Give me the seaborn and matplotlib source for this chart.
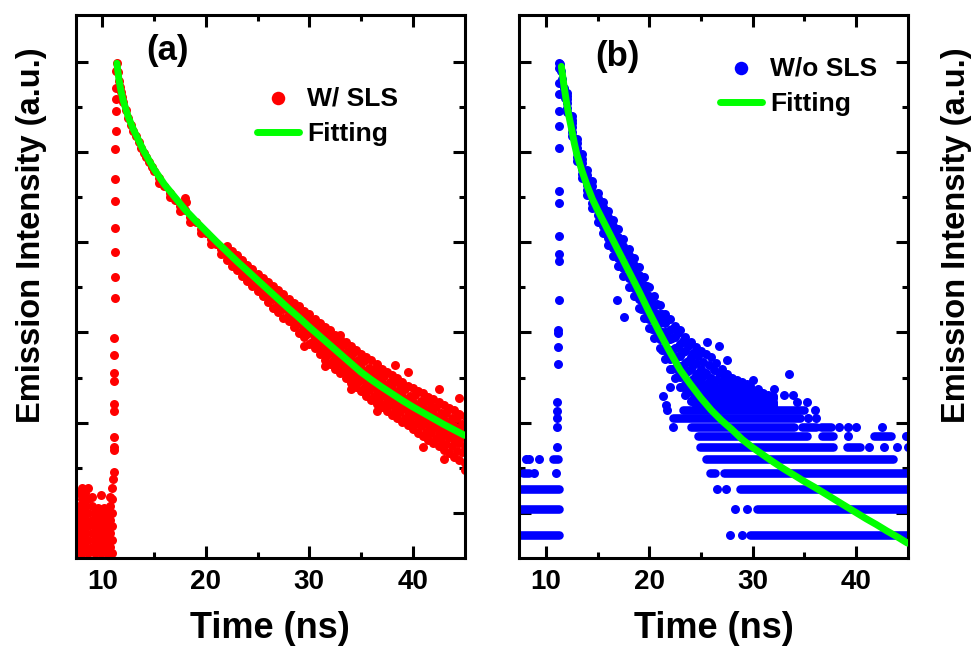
import numpy as np
import pandas as pd
import matplotlib
matplotlib.use("Agg")
import matplotlib.pyplot as plt
import seaborn as sns
from matplotlib.ticker import FixedLocator, NullFormatter

# ---------------- data (y in arbitrary log-intensity units) ----------------
# panel (a): W/ SLS, red
red_noise_x = [7.45] * 4 + [7.75] * 5 + [8.05] * 6 + [8.35] * 5 + [8.65] * 6 + [8.95] * 5 + \
    [9.25] * 4 + [9.55] * 4 + [9.85] * 5 + [10.15] * 4 + [10.45] * 4 + [10.75] * 5 + [10.95] * 6
red_noise_y = [0.1, 0.4, 0.7, 1.0,
               0.25, 0.55, 0.85, 1.15, 1.45,
               0.1, 0.4, 0.7, 1.0, 1.3, 1.55,
               0.25, 0.55, 0.85, 1.15, 1.45,
               0.1, 0.4, 0.7, 1.0, 1.3, 1.55,
               0.25, 0.55, 0.85, 1.15, 1.35,
               0.1, 0.4, 0.7, 1.0,
               0.25, 0.55, 0.85, 1.1,
               0.1, 0.4, 0.7, 1.0, 1.4,
               0.25, 0.55, 0.85, 1.1,
               0.1, 0.4, 0.7, 1.0,
               0.25, 0.55, 0.85, 1.15, 1.35,
               0.1, 0.4, 0.7, 1.0, 1.3, 1.55]

red_rise_x = [11.05, 11.1, 11.1, 11.1, 11.1, 11.15, 11.15, 11.15, 11.15, 11.15, 11.15,
              11.2, 11.2, 11.2, 11.2, 11.2, 11.25, 11.25, 11.3, 11.3, 11.3, 11.35, 11.35, 11.4]
red_rise_y = [1.75, 1.9, 2.39, 2.46, 2.68, 3.27, 3.41, 3.92, 4.11, 4.51, 4.87,
              5.77, 6.22, 6.79, 7.32, 7.92, 8.41, 9.07, 9.47, 9.91, 10.18, 10.42, 10.8, 10.98]

red_head_x = [11.5, 11.6, 11.7, 11.8, 11.9, 12.0, 12.25, 12.5, 12.75, 13.0, 13.25, 13.5, 13.75,
              14.0, 14.25, 14.5, 14.75, 15.0, 15.5, 16.0, 16.5, 17.0, 17.5, 18.0, 18.5, 19.0,
              19.5, 20.0, 20.5, 21.0, 21.5]
red_head_y = [10.78, 10.58, 10.45, 10.33, 10.22, 10.12, 9.93, 9.76, 9.6, 9.47, 9.35, 9.22, 9.1,
              8.98, 8.88, 8.78, 8.68, 8.58, 8.42, 8.24, 8.1, 7.94, 7.8, 7.72, 7.56, 7.44,
              7.3, 7.2, 7.07, 6.97, 6.86]
red_low_x = [15.5, 16.5, 17.5, 18.5, 19.5, 20.5, 21.5]
red_low_y = [8.32, 8.0, 7.7, 7.45, 7.2, 6.97, 6.74]

red_tail_x = [22, 22.5, 23, 23.5, 24, 24.5, 25, 25.5, 26, 26.5, 27, 27.5, 28, 28.5, 29, 29.5,
              30, 30.5, 31, 31.5, 32, 32.5, 33, 33.5, 34, 34.5, 35, 35.5, 36, 36.5, 37, 37.5,
              38, 38.5, 39, 39.5, 40, 40.5, 41, 41.5, 42, 42.5, 43, 43.5, 44, 44.5, 45]
red_tail_hi = [6.92, 6.8, 6.72, 6.6, 6.5, 6.4, 6.3, 6.2, 6.12, 6.03, 5.95, 5.85, 5.75, 5.65, 5.58, 5.48,
               5.42, 5.3, 5.22, 5.12, 5.05, 4.95, 4.85, 4.78, 4.7, 4.62, 4.52, 4.45, 4.38, 4.3, 4.2, 4.12,
               4.05, 3.98, 3.9, 3.82, 3.78, 3.7, 3.65, 3.58, 3.52, 3.45, 3.4, 3.32, 3.28, 3.2, 3.15]
red_tail_mhi = [6.84, 6.72, 6.62, 6.5, 6.42, 6.3, 6.2, 6.1, 6.0, 5.9, 5.8, 5.7, 5.6, 5.5, 5.4, 5.3,
                5.2, 5.1, 5.0, 4.9, 4.8, 4.72, 4.6, 4.52, 4.42, 4.32, 4.22, 4.15, 4.05, 3.98, 3.9, 3.82,
                3.75, 3.68, 3.6, 3.52, 3.45, 3.38, 3.32, 3.25, 3.2, 3.12, 3.05, 2.98, 2.92, 2.85, 2.8]
red_tail_mlo = [6.7, 6.6, 6.48, 6.38, 6.28, 6.16, 6.05, 5.95, 5.85, 5.75, 5.62, 5.52, 5.42, 5.3, 5.2, 5.1,
                5.0, 4.9, 4.78, 4.68, 4.58, 4.48, 4.38, 4.28, 4.18, 4.08, 3.98, 3.88, 3.8, 3.72, 3.62, 3.55,
                3.48, 3.4, 3.32, 3.25, 3.18, 3.1, 3.02, 2.95, 2.88, 2.82, 2.75, 2.68, 2.62, 2.55, 2.48]
red_tail_lo = [6.6, 6.48, 6.38, 6.25, 6.15, 6.02, 5.93, 5.8, 5.68, 5.55, 5.45, 5.32, 5.25, 5.12, 4.98, 4.9,
               4.75, 4.65, 4.52, 4.4, 4.3, 4.2, 4.1, 4.0, 3.88, 3.8, 3.7, 3.6, 3.5, 3.42, 3.35, 3.25,
               3.18, 3.1, 3.02, 2.95, 2.85, 2.78, 2.7, 2.62, 2.55, 2.48, 2.4, 2.32, 2.25, 2.18, 2.1]
# channels in between, where the band is wide
red_mid_x = [28.25, 28.75, 29.25, 29.75, 30.25, 30.75, 31.25, 31.75, 32.25, 32.75, 33.25, 33.75,
             34.25, 34.75, 35.25, 35.75, 36.25, 36.75, 37.25, 37.75, 38.25, 38.75, 39.25, 39.75,
             40.25, 40.75, 41.25, 41.75, 42.25, 42.75, 43.25, 43.75, 44.25, 44.75]
red_mid_a = [5.64, 5.5, 5.46, 5.32, 5.28, 5.12, 5.08, 4.95, 4.9, 4.76, 4.72, 4.58, 4.55, 4.4, 4.36, 4.22,
             4.2, 4.07, 4.04, 3.9, 3.9, 3.76, 3.74, 3.6, 3.62, 3.48, 3.48, 3.36, 3.35, 3.22, 3.22, 3.1,
             3.1, 2.98]
red_mid_b = [5.44, 5.37, 5.22, 5.17, 5.02, 4.96, 4.82, 4.76, 4.62, 4.57, 4.43, 4.37, 4.22, 4.17, 4.04, 3.99,
             3.86, 3.82, 3.7, 3.67, 3.56, 3.52, 3.4, 3.37, 3.26, 3.22, 3.11, 3.09, 2.98, 2.96, 2.85, 2.82,
             2.72, 2.69]
red_mid_c = [5.25, 5.17, 5.03, 4.96, 4.8, 4.73, 4.58, 4.51, 4.37, 4.31, 4.17, 4.11, 3.96, 3.91, 3.77, 3.72,
             3.59, 3.55, 3.42, 3.39, 3.27, 3.23, 3.11, 3.08, 2.96, 2.92, 2.8, 2.77, 2.66, 2.63, 2.52, 2.49,
             2.38, 2.35]
red_out_x = [17.85, 18.0, 18.1, 29.5, 31.5, 33.0, 34.0, 36.5, 38.3, 39.5, 41.0, 42.5, 43.0, 44.5, 45.0]
red_out_y = [7.88, 7.98, 7.9, 4.7, 4.25, 4.95, 3.75, 3.25, 4.27, 4.12, 2.45, 3.75, 2.2, 3.55, 1.95]

fit_a_x = [11.4, 11.6, 11.8, 12.0, 12.5, 13, 13.5, 14, 15, 16, 17, 18, 19, 20, 21, 22, 23, 24, 25,
           26, 27, 28, 29, 30, 31, 32, 33, 34, 35, 36, 37, 38, 39, 40, 41, 42, 43, 44, 45]
fit_a_y = [10.97, 10.6, 10.35, 10.15, 9.78, 9.5, 9.26, 9.02, 8.62, 8.28, 8.0, 7.72, 7.48, 7.25, 7.02,
           6.8, 6.58, 6.37, 6.16, 5.95, 5.74, 5.53, 5.33, 5.12, 4.92, 4.72, 4.52, 4.32, 4.12, 3.95,
           3.79, 3.64, 3.49, 3.35, 3.22, 3.09, 2.96, 2.84, 2.72]

# panel (b): W/o SLS, blue
blue_rise_x = [11.1, 11.1, 11.1, 11.1, 11.12, 11.15, 11.15, 11.2, 11.2, 11.25, 11.25, 11.25, 11.25,
               11.3, 11.3, 11.3, 11.3, 11.3, 11.3, 11.3, 11.3, 11.3]
blue_rise_y = [2.47, 2.91, 3.1, 3.27, 3.46, 4.3, 4.67, 4.98, 5.06, 5.71, 6.58, 6.74, 7.13,
               7.88, 8.13, 9.08, 9.58, 9.91, 10.28, 10.54, 10.87, 10.98]
blue_head_x = [11.4, 11.5, 11.6, 11.75, 11.9]
blue_head_y = [10.95, 10.8, 10.62, 10.42, 10.2]

blue_cols_x = [12.0, 12.5, 13.0, 13.5, 14.0, 14.5, 15.0, 15.5, 16.0, 16.5, 17.0, 17.5, 18.0, 18.5,
               19.0, 19.5, 20.0, 20.5, 21.0, 21.5, 22.0, 22.5, 23.0, 23.5, 24.0, 24.5, 25.0, 25.5,
               26.0, 26.5, 27.0, 27.5, 28.0, 28.5, 29.0, 29.5, 30.0, 30.5, 31.0, 31.5, 32.0]
blue_b1 = [9.88, 9.35, 8.8, 8.42, 8.05, 7.75, 7.45, 7.2, 6.95, 6.7, 6.48, 6.25, 6.0, 5.8, 5.55, 5.32,
           5.1, 4.88, 4.65, 4.42, 4.2, 4.0, 3.8, 3.62, 3.48, 3.4, 3.38, 3.4, 3.38, 3.4, 3.38, 3.4,
           3.38, 3.4, 3.38, 3.4, 3.38, 3.4, 3.38, 3.38, 3.38]
blue_b2 = [9.98, 9.45, 8.9, 8.52, 8.15, 7.88, 7.6, 7.35, 7.1, 6.88, 6.65, 6.42, 6.2, 5.98, 5.75, 5.52,
           5.3, 5.08, 4.85, 4.62, 4.42, 4.22, 4.02, 3.85, 3.7, 3.58, 3.5, 3.48, 3.45, 3.48, 3.45, 3.45,
           3.42, 3.45, 3.42, 3.45, 3.42, 3.42, 3.4, 3.4, 3.4]
blue_b3 = [10.08, 9.55, 9.0, 8.62, 8.28, 8.0, 7.72, 7.5, 7.25, 7.02, 6.8, 6.6, 6.38, 6.15, 5.92, 5.7,
           5.48, 5.25, 5.02, 4.82, 4.62, 4.42, 4.25, 4.08, 3.92, 3.8, 3.68, 3.6, 3.55, 3.55, 3.52, 3.5,
           3.5, 3.52, 3.5, 3.5, 3.48, 3.48, 3.45, 3.42, 3.42]
blue_b4 = [10.18, 9.65, 9.1, 8.75, 8.4, 8.12, 7.85, 7.62, 7.4, 7.18, 6.98, 6.78, 6.55, 6.32, 6.1, 5.88,
           5.65, 5.45, 5.22, 5.02, 4.85, 4.65, 4.48, 4.32, 4.18, 4.05, 3.92, 3.82, 3.75, 3.7, 3.65, 3.62,
           3.6, 3.6, 3.58, 3.6, 3.55, 3.55, 3.5, 3.48, 3.45]
blue_b5 = [10.25, 9.72, 9.2, 8.85, 8.5, 8.25, 7.98, 7.78, 7.55, 7.35, 7.12, 6.92, 6.72, 6.5, 6.28, 6.05,
           5.82, 5.62, 5.42, 5.22, 5.05, 4.9, 4.75, 4.6, 4.45, 4.32, 4.2, 4.1, 4.0, 3.95, 3.9, 3.82,
           3.78, 3.72, 3.7, 3.72, 3.7, 3.62, 3.58, 3.55, 3.55]
blue_b6 = [10.3, 9.8, 9.28, 8.95, 8.6, 8.35, 8.1, 7.9, 7.7, 7.5, 7.3, 7.08, 6.85, 6.65, 6.45, 6.22,
           6.0, 5.8, 5.6, 5.42, 5.3, 5.15, 5.05, 4.9, 4.8, 4.68, 4.6, 4.52, 4.45, 4.32, 4.2, 4.08,
           4.0, 3.95, 3.9, 3.85, 3.95, 3.75, 3.65, 3.62, 3.6]
# channels in between, where the band is wide
blue_mid_x = [19.25, 19.75, 20.25, 20.75, 21.25, 21.75, 22.25, 22.75, 23.25, 23.75, 24.25, 24.75,
              25.25, 25.75, 26.25, 26.75, 27.25, 27.75, 28.25, 28.75, 29.25, 29.75]
blue_s1 = [5.52, 5.33, 5.07, 4.89, 4.62, 4.44, 4.19, 4.03, 3.8, 3.68, 3.52, 3.48, 3.44, 3.43, 3.42, 3.43,
           3.42, 3.41, 3.42, 3.41, 3.42, 3.41]
blue_s2 = [5.73, 5.48, 5.3, 5.03, 4.85, 4.6, 4.44, 4.21, 4.07, 3.87, 3.77, 3.62, 3.58, 3.5, 3.52, 3.49,
           3.5, 3.46, 3.48, 3.47, 3.46, 3.47]
blue_s3 = [5.88, 5.7, 5.44, 5.26, 5.0, 4.85, 4.62, 4.47, 4.26, 4.15, 3.97, 3.88, 3.74, 3.7, 3.62, 3.62,
           3.55, 3.58, 3.54, 3.56, 3.55, 3.52]
blue_s4 = [6.1, 5.83, 5.66, 5.41, 5.24, 5.02, 4.88, 4.68, 4.56, 4.37, 4.27, 4.1, 4.03, 3.9, 3.87, 3.78,
           3.77, 3.68, 3.7, 3.63, 3.66, 3.62]
blue_s5 = [6.23, 6.04, 5.79, 5.63, 5.4, 5.27, 5.08, 4.98, 4.81, 4.71, 4.54, 4.47, 4.34, 4.29, 4.16, 4.11,
           3.98, 3.94, 3.84, 3.84, 3.77, 3.82]

blue_out_x = [8.07, 8.39, 9.36, 8.87, 11.0, 16.9, 17.6, 21.3, 21.6, 22.0, 21.7, 22.3, 25.6, 26.8, 27.5,
              32.1, 33.0, 33.5, 33.9, 34.3, 35.3, 35.4, 36.1, 36.0, 38.4, 39.2, 40.0, 42.5, 39.2, 44.9,
              41.3, 42.7, 44.0, 45.0, 26.6, 27.4, 28.3, 29.5, 27.8, 29.0]
blue_out_y = [2.2, 2.2, 2.2, 1.89, 1.89, 5.71, 5.34, 3.6, 3.4, 3.8, 3.28, 2.91, 4.8, 4.7, 4.4,
              3.75, 3.62, 4.09, 3.62, 3.45, 3.45, 3.1, 3.1, 3.28, 2.91, 2.91, 2.91, 2.91, 2.7, 2.7,
              2.47, 2.47, 2.47, 2.47, 1.53, 1.53, 1.08, 1.08, 0.51, 0.51]

# quantised low-count rows: level, first and last channel time of each run of touching dots
blue_row_y = [3.28, 3.1, 2.91, 2.91, 2.91, 2.7, 2.7, 2.7, 2.47, 2.47, 2.2, 1.89, 1.89, 1.53, 1.08, 0.51,
              2.2, 1.89, 1.53, 1.08, 0.51]
blue_row_x0 = [23.3, 22.3, 24.0, 34.8, 36.6, 24.7, 36.7, 41.8, 24.9, 39.1, 25.5, 25.9, 27.2, 28.8, 30.4, 29.8,
               10.7, 7.75, 7.45, 7.45, 7.45]
blue_row_x1 = [35.0, 34.6, 34.0, 36.1, 37.6, 35.3, 37.8, 43.4, 37.8, 40.4, 43.6, 26.4, 45.0, 45.0, 45.0, 45.0,
               11.2, 8.39, 11.3, 11.3, 11.3]

fit_b_x = [11.5, 11.75, 12.0, 12.25, 12.5, 12.75, 13.0, 13.5, 14, 14.5, 15, 16, 17, 18, 19, 20, 21, 22,
           23, 24, 25, 26, 27, 28, 29, 30, 31, 32, 33, 34, 35, 36, 37, 38, 39, 40, 41, 42, 43, 44, 45]
fit_b_y = [10.9, 10.48, 10.1, 9.78, 9.5, 9.2, 8.95, 8.58, 8.25, 7.96, 7.72, 7.27, 6.82, 6.37, 5.92, 5.45,
           5.0, 4.57, 4.17, 3.85, 3.55, 3.28, 3.05, 2.85, 2.63, 2.45, 2.29, 2.13, 1.98, 1.84, 1.7, 1.57,
           1.43, 1.29, 1.15, 1.01, 0.87, 0.74, 0.6, 0.47, 0.33]

RED = "#ff0000"
BLUE = "#0000ff"
GREEN = "#00ff00"
DOT = 42

sns.set_style("ticks")
plt.rcParams["font.family"] = ["Liberation Sans", "DejaVu Sans"]
plt.rcParams["font.weight"] = "bold"
plt.rcParams["text.color"] = "black"
plt.rcParams["axes.labelcolor"] = "black"
plt.rcParams["xtick.color"] = "black"
plt.rcParams["ytick.color"] = "black"

fig = plt.figure(figsize=(9.77, 6.48), dpi=100)
ax_a = fig.add_axes([0.0773, 0.1389, 0.3987, 0.838])
ax_b = fig.add_axes([0.5312, 0.1389, 0.3982, 0.838])

# ---------------- panel (a) ----------------
red_x = np.concatenate([red_noise_x, red_rise_x, red_head_x, red_low_x,
                        np.tile(red_tail_x, 4), np.tile(red_mid_x, 3), red_out_x])
red_y = np.concatenate([red_noise_y, red_rise_y, red_head_y, red_low_y,
                        red_tail_hi, red_tail_mhi, red_tail_mlo, red_tail_lo,
                        red_mid_a, red_mid_b, red_mid_c, red_out_y])
df_red = pd.DataFrame({"t": red_x, "I": red_y})
sns.scatterplot(data=df_red, x="t", y="I", color=RED, s=DOT, linewidth=0,
                label="W/ SLS", ax=ax_a, zorder=2)
sns.lineplot(x=fit_a_x, y=fit_a_y, color=GREEN, linewidth=5, estimator=None,
             label="Fitting", ax=ax_a, zorder=3)

# ---------------- panel (b) ----------------
ax_b.hlines(blue_row_y, blue_row_x0, blue_row_x1, colors=BLUE, linewidth=6.2,
            capstyle="round", zorder=2)
blue_x = np.concatenate([blue_rise_x, blue_head_x, np.tile(blue_cols_x, 6),
                         np.tile(blue_mid_x, 5), blue_out_x])
blue_y = np.concatenate([blue_rise_y, blue_head_y, blue_b1, blue_b2, blue_b3,
                         blue_b4, blue_b5, blue_b6,
                         blue_s1, blue_s2, blue_s3, blue_s4, blue_s5, blue_out_y])
df_blue = pd.DataFrame({"t": blue_x, "I": blue_y})
sns.scatterplot(data=df_blue, x="t", y="I", color=BLUE, s=DOT, linewidth=0,
                label="W/o SLS", ax=ax_b, zorder=2)
sns.lineplot(x=fit_b_x, y=fit_b_y, color=GREEN, linewidth=5, estimator=None,
             label="Fitting", ax=ax_b, zorder=3)

for ax in (ax_a, ax_b):
    ax.set_xlim(7.4, 45.05)
    ax.set_ylim(0, 12.04)
    ax.xaxis.set_major_locator(FixedLocator([10, 20, 30, 40]))
    ax.xaxis.set_minor_locator(FixedLocator([15, 25, 35]))
    ax.yaxis.set_major_locator(FixedLocator([1, 3, 5, 7, 9, 11]))
    ax.yaxis.set_minor_locator(FixedLocator([2, 4, 6, 8, 10]))
    ax.yaxis.set_major_formatter(NullFormatter())
    ax.tick_params(which="both", direction="in", top=True, right=True, width=2.2,
                   color="black")
    ax.tick_params(which="major", length=8.5, labelsize=20, pad=8, labelcolor="black")
    ax.tick_params(which="minor", length=4.5)
    for lab in ax.get_xticklabels():
        lab.set_fontweight("bold")
    for sp in ax.spines.values():
        sp.set_linewidth(2.2)
        sp.set_color("black")
    ax.set_ylabel("")
    ax.set_xlabel("Time (ns)", fontsize=26, fontweight="bold", color="black")
    ax.xaxis.set_label_coords(0.5, -0.098)

ax_a.legend(frameon=False, loc="upper left", bbox_to_anchor=(0.466, 0.869),
            borderpad=0, borderaxespad=0, handlelength=1.6, handletextpad=0.3,
            labelspacing=0.45, markerscale=1.5, prop={"weight": "bold", "size": 19})
ax_b.legend(frameon=False, loc="upper left", bbox_to_anchor=(0.517, 0.924),
            borderpad=0, borderaxespad=0, handlelength=1.6, handletextpad=0.3,
            labelspacing=0.45, markerscale=1.5, prop={"weight": "bold", "size": 19})

ax_a.text(0.237, 0.934, "(a)", transform=ax_a.transAxes, ha="center", va="center",
          fontsize=25, fontweight="bold", color="black")
ax_b.text(0.253, 0.924, "(b)", transform=ax_b.transAxes, ha="center", va="center",
          fontsize=25, fontweight="bold", color="black")

fig.text(32 / 977, 1 - 235 / 648, "Emission Intensity (a.u.)", rotation=90,
         ha="center", va="center", fontsize=23.5, fontweight="bold", color="black")
fig.text(957 / 977, 1 - 235 / 648, "Emission Intensity (a.u.)", rotation=90,
         ha="center", va="center", fontsize=23.5, fontweight="bold", color="black")

fig.savefig("out.png", dpi=100)
